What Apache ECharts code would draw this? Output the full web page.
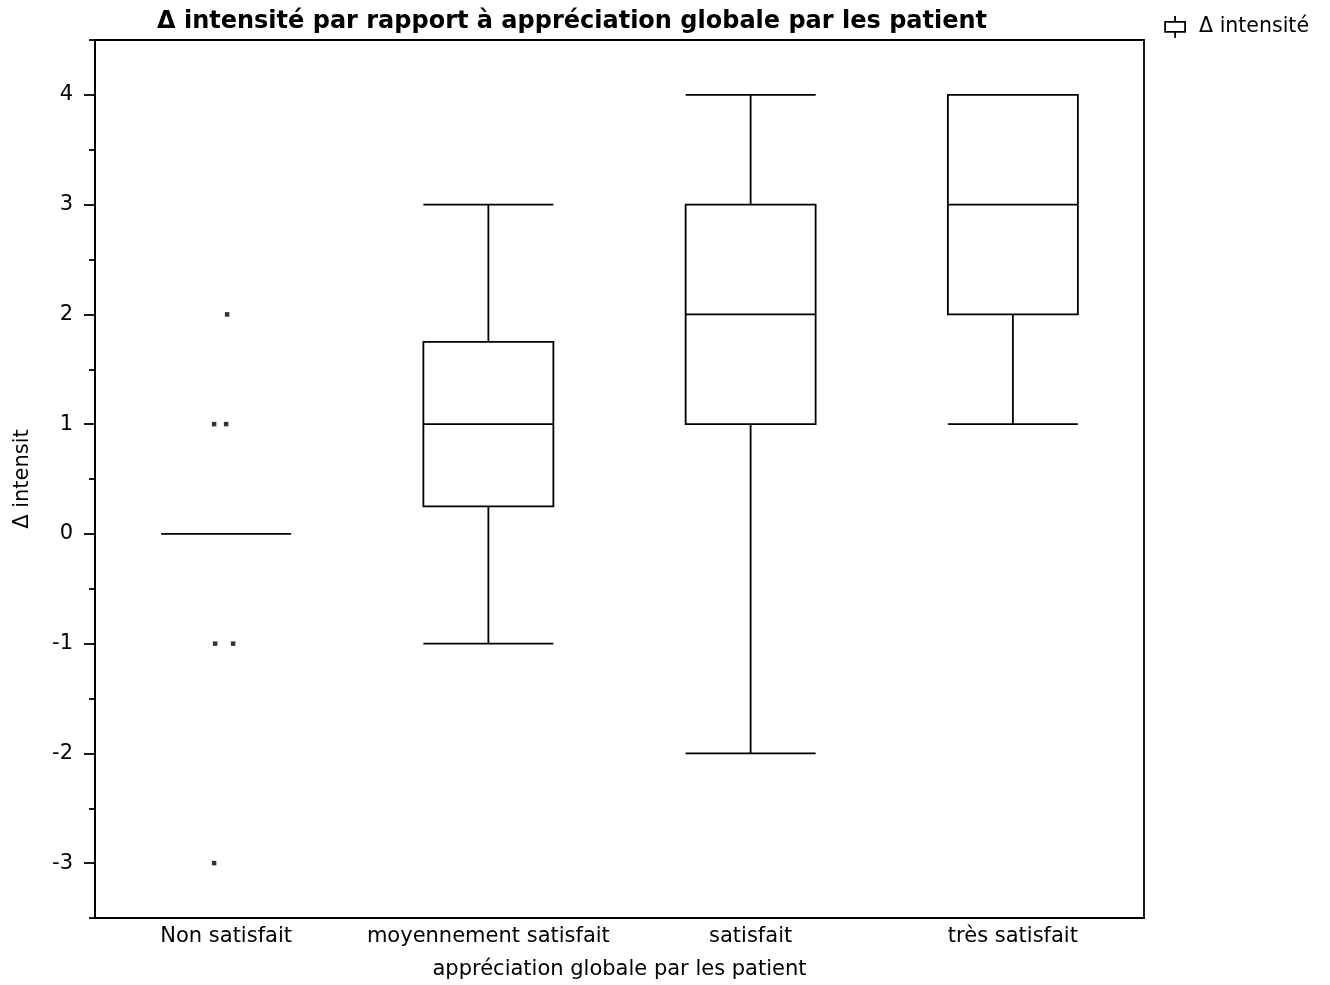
<!DOCTYPE html>
<html><head><meta charset="utf-8">
<script src="https://cdn.jsdelivr.net/npm/echarts@6/dist/echarts.min.js"></script>
<style>html,body{margin:0;padding:0;background:#fff}#c{width:1330px;height:985px}</style>
</head><body><div id="c"></div>
<script>
const categories = ['Non satisfait', 'moyennement satisfait', 'satisfait', 'très satisfait'];
// [min, Q1, median, Q3, max]
const boxValues = [
  [0, 0, 0, 0, 0],
  [-1, 0.25, 1, 1.75, 3],
  [-2, 1, 2, 3, 4],
  [1, 2, 3, 4, 4]
];
// outliers: [category index, value]
const outliers = [[0, 2], [0, 1], [0, 1], [0, -1], [0, -1], [0, -3]];
const outlierJitter = [1, -12, 0, -11, 7, -12];
const yTicks = [-3, -2, -1, 0, 1, 2, 3, 4];
const yMinorTicks = [-3.5, -2.5, -1.5, -0.5, 0.5, 1.5, 2.5, 3.5, 4.5];

const font = '"DejaVu Sans", "Liberation Sans", Arial, sans-serif';
const chart = echarts.init(document.getElementById('c'));
chart.setOption({
  animation: false,
  backgroundColor: '#fff',
  title: {
    text: 'Δ intensité par rapport à appréciation globale par les patient',
    left: 152, top: 5,
    textStyle: { fontFamily: font, fontWeight: 'bold', fontSize: 24, color: '#000' }
  },
  legend: {
    right: 16, top: 10,
    itemWidth: 20, itemHeight: 22, itemGap: 14,
    textStyle: { fontFamily: font, fontSize: 20.5, color: '#000', padding: [0, 0, 0, 9] },
    data: [{
      name: 'Δ intensité',
      icon: 'path://M0,6 H20 V16 H0 Z M10,0 V6 M10,16 V22',
      itemStyle: { color: '#fff', borderColor: '#000', borderWidth: 1.8 }
    }]
  },
  grid: { left: 95, right: 186, top: 40, bottom: 66, show: true, borderColor: '#000', borderWidth: 1.8, backgroundColor: 'transparent' },
  xAxis: {
    type: 'category', data: categories, boundaryGap: true,
    axisLine: { onZero: false, lineStyle: { color: '#000', width: 1.8 } },
    axisTick: { show: false },
    axisLabel: { interval: 0, fontFamily: font, fontSize: 21, color: '#000', margin: 8 },
    name: 'appréciation globale par les patient', nameLocation: 'middle', nameGap: 41,
    nameTextStyle: { fontFamily: font, fontSize: 21, color: '#000' },
    splitLine: { show: false }
  },
  yAxis: [{
    type: 'value', min: -3.5, max: 4.5,
    axisLine: { show: true, onZero: false, lineStyle: { color: '#000', width: 1.8 } },
    axisTick: { show: true, length: 11, customValues: yTicks, lineStyle: { color: '#000', width: 1.8 } },
    axisLabel: { customValues: yTicks, fontFamily: font, fontSize: 21, color: '#000', margin: 22 },
    splitLine: { show: false },
    name: 'Δ intensit', nameLocation: 'middle', nameGap: 62, nameRotate: 90,
    nameTextStyle: { fontFamily: font, fontSize: 21, color: '#000' }
  }, {
    type: 'value', min: -3.5, max: 4.5, position: 'left',
    axisLine: { show: false },
    axisTick: { show: true, length: 6, customValues: yMinorTicks, lineStyle: { color: '#000', width: 1.8 } },
    axisLabel: { show: false },
    splitLine: { show: false }
  }],
  series: [{
    name: 'Δ intensité', type: 'boxplot',
    data: boxValues,
    boxWidth: [130, 130],
    itemStyle: { color: '#fff', borderColor: '#000', borderWidth: 1.8 },
    emphasis: { disabled: true }
  }, {
    name: 'outliers', type: 'scatter',
    data: outliers.map((d, i) => ({ value: d, symbolOffset: [outlierJitter[i], 0] })),
    symbol: 'rect', symbolSize: 4.5,
    itemStyle: { color: '#000' },
    silent: true
  }]
});
</script>
</body></html>
